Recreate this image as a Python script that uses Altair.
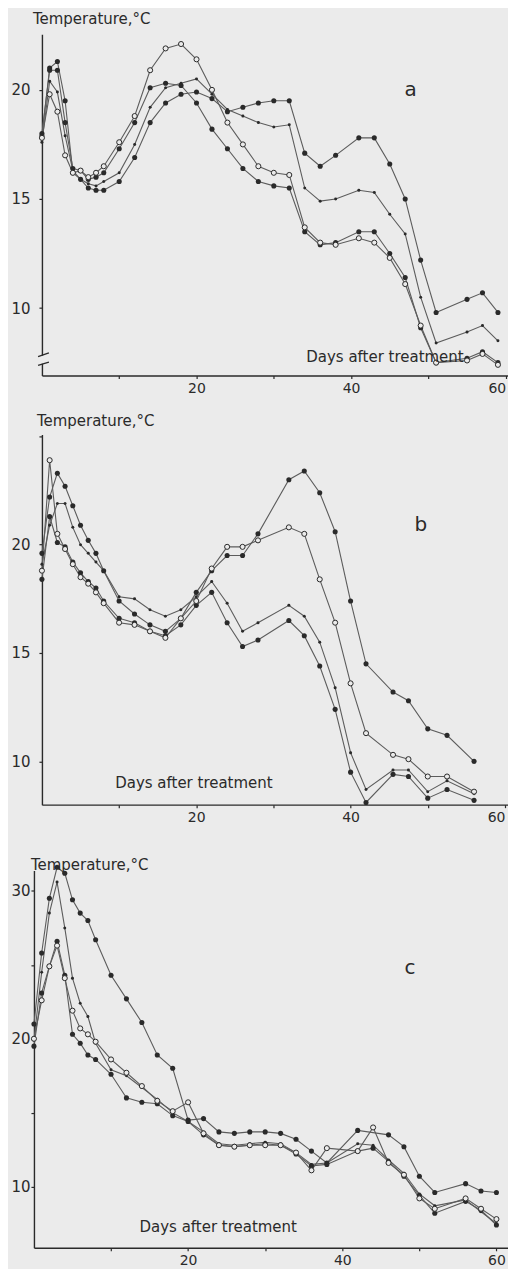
import altair as alt
import pandas as pd

BG = "#ebebeb"
INK = "#2a2a2a"
LINE = "#5c5c5c"
FONT = "DejaVu Sans"

SERIES = ["A", "B", "C", "D"]
MARKER = {"A": "filled", "B": "small", "C": "filled", "D": "open"}

# ---------------- panel a ----------------
DAYS_A = [0, 1, 2, 3, 4, 5, 6, 7, 8, 10, 12, 14, 16, 18, 20, 22, 24, 26, 28, 30, 32,
          34, 36, 38, 41, 43, 45, 47, 49, 51, 55, 57, 59]
A_A = [17.9, 21.0, 21.3, 19.5, 16.2, 15.9, 15.5, 15.4, 15.4, 15.8, 16.9, 18.5, 19.4, 19.8,
       19.9, 19.6, 19.0, 19.2, 19.4, 19.5, 19.5, 17.1, 16.5, 17.0, 17.8, 17.8, 16.6, 15.0,
       12.2, 9.8, 10.4, 10.7, 9.8]
A_B = [17.6, 20.4, 19.9, 17.9, 16.3, 15.9, 15.7, 15.6, 15.8, 16.2, 17.5, 19.2, 20.1, 20.3,
       20.5, 19.8, 19.1, 18.8, 18.5, 18.3, 18.4, 15.5, 14.9, 15.0, 15.4, 15.3, 14.3, 13.4,
       10.5, 8.4, 8.9, 9.2, 8.5]
A_C = [18.0, 20.9, 20.9, 18.5, 16.4, 16.3, 15.9, 16.0, 16.2, 17.3, 18.5, 20.1, 20.3, 20.2,
       19.4, 18.2, 17.3, 16.4, 15.8, 15.6, 15.5, 13.5, 12.9, 13.0, 13.5, 13.5, 12.5, 11.4,
       9.1, 7.5, 7.7, 8.0, 7.5]
A_D = [17.8, 19.8, 19.0, 17.0, 16.2, 16.3, 16.0, 16.2, 16.5, 17.6, 18.8, 20.9, 21.9, 22.1,
       21.4, 20.0, 18.5, 17.5, 16.5, 16.2, 16.1, 13.7, 13.0, 12.9, 13.2, 13.0, 12.3, 11.1,
       9.2, 7.5, 7.6, 7.9, 7.4]

# ---------------- panel b ----------------
DAYS_B = [0, 1, 2, 3, 4, 5, 6, 7, 8, 10, 12, 14, 16, 18, 20, 22, 24, 26, 28, 32, 34, 36,
          38, 40, 42, 45.5, 47.5, 50, 52.5, 56]
B_A = [19.6, 22.2, 23.3, 22.7, 21.8, 20.9, 20.2, 19.6, 18.8, 17.4, 16.8, 16.3, 16.0, 16.6,
       17.8, 18.8, 19.5, 19.5, 20.5, 23.0, 23.4, 22.4, 20.6, 17.4, 14.5, 13.2, 12.8, 11.5,
       11.2, 10.0]
B_B = [19.1, 20.9, 21.9, 21.9, 20.8, 20.0, 19.6, 19.2, 18.8, 17.6, 17.5, 17.0, 16.7, 17.0,
       17.6, 18.3, 17.3, 16.0, 16.4, 17.2, 16.7, 15.5, 13.4, 10.4, 8.7, 9.6, 9.6, 8.6, 9.1, 8.5]
B_C = [18.4, 21.3, 20.1, 19.9, 19.2, 18.7, 18.3, 18.0, 17.4, 16.6, 16.4, 16.0, 15.8, 16.3,
       17.2, 17.8, 16.4, 15.3, 15.6, 16.5, 15.8, 14.4, 12.4, 9.5, 8.1, 9.4, 9.3, 8.3, 8.7, 8.2]
B_D = [18.8, 23.9, 20.5, 19.8, 19.1, 18.5, 18.2, 17.8, 17.3, 16.4, 16.3, 16.0, 15.7, 16.6,
       17.4, 18.9, 19.9, 19.9, 20.2, 20.8, 20.5, 18.4, 16.4, 13.6, 11.3, 10.3, 10.1, 9.3, 9.3, 8.6]

# ---------------- panel c ----------------
DAYS_C = [0, 1, 2, 3, 4, 5, 6, 7, 8, 10, 12, 14, 16, 18, 20, 22, 24, 26, 28, 30, 32, 34,
          36, 38, 42, 44, 46, 48, 50, 52, 56, 58, 60]
C_A = [21.0, 25.8, 29.5, 31.6, 31.2, 29.4, 28.5, 28.0, 26.7, 24.3, 22.7, 21.1, 18.9, 18.0,
       14.5, 14.6, 13.7, 13.6, 13.7, 13.7, 13.6, 13.2, 12.4, 11.6, 13.8, None, 13.5, 12.7,
       10.7, 9.6, 10.2, 9.7, 9.6]
C_B = [19.9, 24.5, 28.5, 30.6, 27.5, 24.1, 22.4, 21.5, 19.7, 17.9, 17.5, 16.7, 15.9, 15.0,
       14.4, 13.7, 12.9, 12.8, 12.9, 13.0, 12.9, 12.3, 11.5, 11.6, 12.9, 12.8, 11.8, 10.9,
       9.5, 8.7, 9.1, 8.3, 7.5]
C_C = [19.5, 23.1, 24.9, 26.6, 24.3, 20.3, 19.7, 18.9, 18.6, 17.6, 16.0, 15.7, 15.6, 14.8,
       14.4, 13.5, 12.8, 12.7, 12.8, 12.9, 12.8, 12.2, 11.4, 11.5, 12.4, 12.6, 11.7, 10.7,
       9.4, 8.2, 9.0, 8.4, 7.4]
C_D = [20.0, 22.6, 24.9, 26.3, 24.1, 21.9, 20.7, 20.3, 19.8, 18.6, 17.7, 16.8, 15.8, 15.1,
       15.7, 13.6, 12.8, 12.7, 12.8, 12.8, 12.8, 12.3, 11.1, 12.6, 12.4, 14.0, 11.6, 10.8,
       9.2, 8.5, 9.2, 8.5, 7.8]

X_TICKS = [10, 20, 30, 40, 50, 60]
Y_TITLE = "Temperature,°C"
X_TITLE = "Days after treatment"


def long_df(days, series_values):
    rows = []
    for s, vals in zip(SERIES, series_values):
        for d, v in zip(days, vals):
            if v is not None:
                rows.append({"day": d, "temp": v, "series": s, "marker": MARKER[s]})
    return pd.DataFrame(rows)


def text_layer(label, xy, size, align, baseline):
    return alt.Chart(pd.DataFrame({"t": [label]})).mark_text(
        font=FONT, fontSize=size, color=INK, align=align, baseline=baseline).encode(
        x=alt.datum(xy[0]), y=alt.datum(xy[1]), text="t:N")


def spacer():
    return alt.Chart(pd.DataFrame({"v": [0]})).mark_point(size=1, opacity=0).encode(
        x=alt.value(0.5), y=alt.value(0.5)).properties(width=1, height=1)


def panel(df, xmax, ydom, width, height, yticks, ylabels, ylabpad, letter, letter_xy,
          xtitle_xy, ytitle_xy, flush, breakmark=False):
    lab = "[" + ",".join(str(v) for v in ylabels) + "]"
    x = alt.X("day:Q", scale=alt.Scale(domain=[0, xmax], nice=False, zero=False),
              axis=alt.Axis(values=X_TICKS, title=None, tickSize=3, labelPadding=3,
                            labelFlush=flush,
                            labelExpr="datum.value % 20 == 0 ? datum.label : ''"))
    y = alt.Y("temp:Q", scale=alt.Scale(domain=ydom, nice=False, zero=False),
              axis=alt.Axis(values=yticks, title=None, tickSize=3, labelPadding=ylabpad,
                            labelFontSize=15,
                            labelExpr="indexof(" + lab + ", datum.value) >= 0 ? datum.label : ''"))
    base = alt.Chart(df)
    lines = base.mark_line(color=LINE, strokeWidth=1.1).encode(
        x=x, y=y, detail="series:N", order="day:Q")
    filled = base.transform_filter("datum.marker == 'filled'").mark_circle(
        size=26, color=INK, opacity=1).encode(x=x, y=y)
    small = base.transform_filter("datum.marker == 'small'").mark_circle(
        size=9, color=INK, opacity=1).encode(x=x, y=y)
    opened = base.transform_filter("datum.marker == 'open'").mark_point(
        shape="circle", size=26, filled=True, fill=BG, stroke=INK, strokeWidth=1,
        opacity=1).encode(x=x, y=y)
    layers = [lines, filled, small, opened,
              text_layer(letter, letter_xy, 20, "center", "middle"),
              text_layer(X_TITLE, xtitle_xy, 15, "left", "alphabetic"),
              text_layer(Y_TITLE, ytitle_xy, 15, "left", "alphabetic")]
    if breakmark:
        gap = alt.Chart(pd.DataFrame({"y0": [7.45], "y1": [7.82]})).mark_rule(
            color=BG, strokeWidth=5).encode(x=alt.datum(0), y="y0:Q", y2="y1:Q")
        slash = pd.DataFrame({"g": ["u", "u", "l", "l"],
                              "xx": [-0.5, 0.9, -0.5, 0.9],
                              "yy": [7.78, 7.95, 7.38, 7.52]})
        slashes = alt.Chart(slash).mark_line(color=INK, strokeWidth=1.3).encode(
            x="xx:Q", y="yy:Q", detail="g:N")
        layers += [gap, slashes]
    view = alt.layer(*layers).properties(width=width, height=height)
    return alt.hconcat(spacer(), view, spacing=0)


pa = panel(long_df(DAYS_A, [A_A, A_B, A_C, A_D]), 60.3, [6.91, 22.55], 467, 342,
           [10, 15, 20], [10, 15, 20], 9, "a", (47.7, 20.0), (34.2, 7.55),
           (-1.16, 23.0), 5, breakmark=True)
pb = panel(long_df(DAYS_B, [B_A, B_B, B_C, B_D]), 60.4, [8.0, 25.09], 467, 371,
           [10, 15, 20, 25], [10, 15, 20], 9, "b", (49.1, 20.9), (9.5, 8.75),
           (-0.65, 25.5), 5)
pc = panel(long_df(DAYS_C, [C_A, C_B, C_C, C_D]), 61.5, [5.86, 31.38], 475, 378,
           [10, 15, 20, 25, 30], [10, 20, 30], 1, "c", (48.8, 24.8), (13.7, 6.9),
           (-0.39, 31.45), False)

top = alt.vconcat(pa, pb, spacing=18)
chart = alt.vconcat(top, pc, spacing=32).properties(
    padding={"left": 1, "top": 3, "right": 0, "bottom": 0},
    background=BG
).configure_view(stroke=None).configure_axis(
    grid=False, domainColor=INK, domainWidth=1.4, tickColor=INK, tickWidth=1.2,
    labelFont=FONT, labelFontSize=14, labelColor=INK
)

chart.save("out.html", embed_options={"renderer": "svg", "actions": False})
